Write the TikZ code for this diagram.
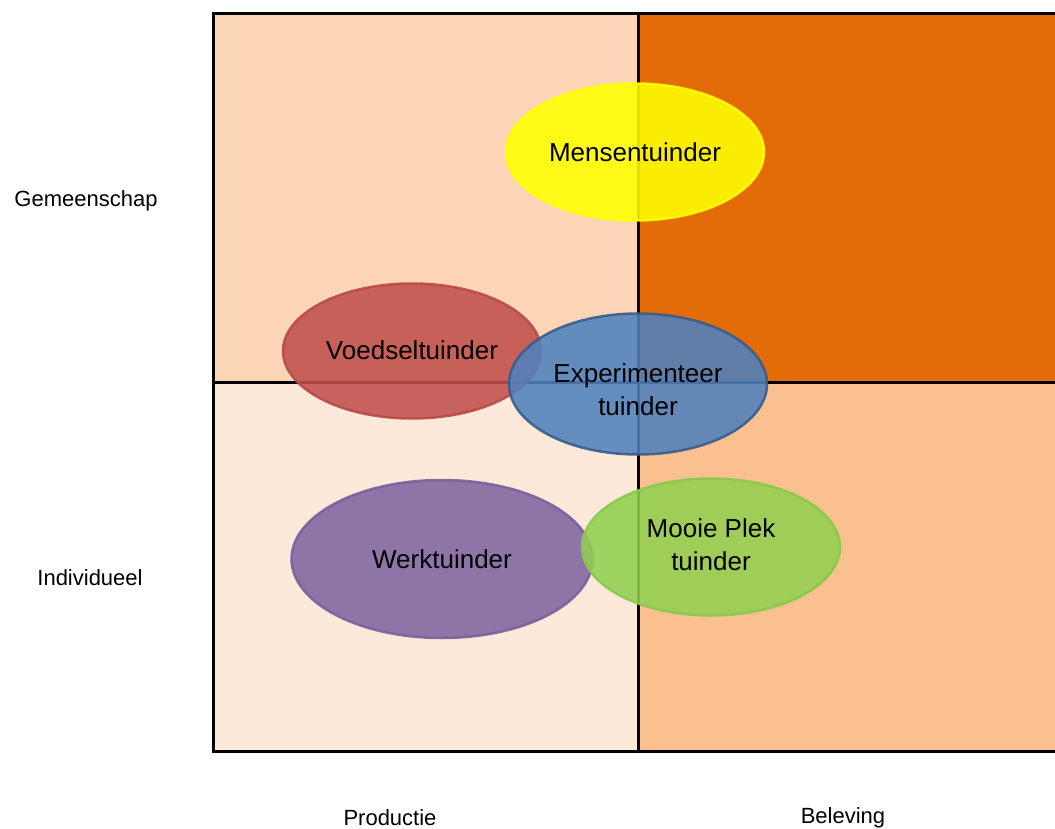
\documentclass[tikz,border=0pt]{standalone}
\usepackage{fontspec}
\setmainfont{Liberation Sans}
\usetikzlibrary{shapes.geometric}
\definecolor{qTL}{HTML}{FBD5B5}
\definecolor{qTR}{HTML}{E36C09}
\definecolor{qBL}{HTML}{FDE9D9}
\definecolor{qBR}{HTML}{FAC090}
\definecolor{cYel}{HTML}{FFFF00}
\definecolor{cRed}{HTML}{C0504D}
\definecolor{cRedB}{HTML}{B84A47}
\definecolor{cBlue}{HTML}{4F81BD}
\definecolor{cBlueB}{HTML}{385D8A}
\definecolor{cPur}{HTML}{8064A2}
\definecolor{cPurB}{HTML}{7A5F9B}
\definecolor{cGrn}{HTML}{92D050}
\definecolor{cGrnB}{HTML}{8BC84C}
\newcommand{\shiftline}[2]{\raisebox{#1}[\height][\depth]{#2}}
\tikzset{
  blob/.style={ellipse, fill opacity=0.88, draw opacity=0.9, line width=2.5pt, text opacity=1,
    font=\fontsize{26}{33}\selectfont, align=center, inner sep=0pt},
  axislabel/.style={font=\fontsize{22}{26}\selectfont, inner sep=0pt},
  gridline/.style={line width=3pt, draw=black}
}
\begin{document}
\begin{tikzpicture}[x=1pt,y=-1pt]
\useasboundingbox (0,0) rectangle (1055,829);
% quadrants
\fill[qTL] (213,14) rectangle (638,382);
\fill[qTR] (638,14) rectangle (1055,382);
\fill[qBL] (213,382) rectangle (638,751);
\fill[qBR] (638,382) rectangle (1055,751);
% lines
\draw[gridline] (1055,14) -- (213,14) -- (213,751) -- (1055,751);
\draw[gridline] (638,14) -- (638,751);
\draw[gridline] (213,382) -- (1055,382);
% axis labels
\node[axislabel] (gem) at (86,201) {Gemeenschap};
\node[axislabel] (ind) at (90,578) {Individueel};
\node[axislabel] (prod) at (390,818) {Productie};
\node[axislabel] (bel) at (843,818) {Beleving};
% ellipses
\node[blob, fill=cYel, draw=cYel, minimum width=258pt, minimum height=137pt] (mens) at (635,152) {Mensentuinder};
\node[blob, fill=cRed, draw=cRedB, minimum width=258pt, minimum height=135pt] (voed) at (412,351) {\shiftline{1pt}{Voedseltuinder}};
\node[blob, fill=cBlue, draw=cBlueB, minimum width=258pt, minimum height=141pt] (exp) at (638,384) {\shiftline{-6pt}{Experimenteer}\\\shiftline{-6pt}{tuinder}};
\node[blob, fill=cPur, draw=cPurB, minimum width=301pt, minimum height=158pt] (werk) at (442,559) {Werktuinder};
\node[blob, fill=cGrn, draw=cGrnB, minimum width=258pt, minimum height=137pt] (mooi) at (711,547) {\shiftline{2pt}{Mooie Plek}\\\shiftline{2pt}{tuinder}};
\end{tikzpicture}
\end{document}
